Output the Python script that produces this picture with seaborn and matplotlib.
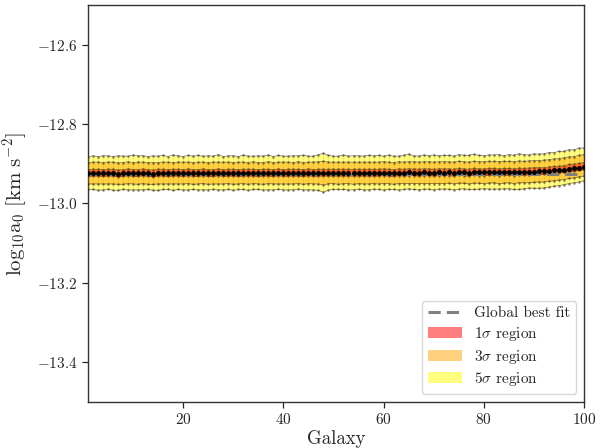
import numpy as np
import pandas as pd
import matplotlib
matplotlib.use("Agg")
import matplotlib.pyplot as plt
import seaborn as sns
from matplotlib.lines import Line2D
from matplotlib.patches import Patch

# ---------------- data ----------------
galaxy = list(range(1, 101))

global_best = -12.925

median = [
    -12.924, -12.923, -12.924, -12.924, -12.923, -12.924, -12.925, -12.924, -12.923, -12.924,
    -12.924, -12.923, -12.924, -12.925, -12.924, -12.923, -12.924, -12.924, -12.923, -12.924,
    -12.923, -12.924, -12.924, -12.923, -12.924, -12.924, -12.923, -12.924, -12.923, -12.924,
    -12.924, -12.923, -12.924, -12.923, -12.924, -12.924, -12.923, -12.924, -12.923, -12.924,
    -12.923, -12.924, -12.923, -12.924, -12.923, -12.924, -12.923, -12.924, -12.923, -12.923,
    -12.924, -12.923, -12.923, -12.924, -12.923, -12.923, -12.924, -12.923, -12.923, -12.923,
    -12.923, -12.924, -12.923, -12.923, -12.922, -12.923, -12.923, -12.922, -12.923, -12.923,
    -12.922, -12.923, -12.922, -12.923, -12.922, -12.922, -12.923, -12.922, -12.922, -12.922,
    -12.922, -12.921, -12.922, -12.922, -12.921, -12.922, -12.921, -12.921, -12.920, -12.920,
    -12.919, -12.919, -12.918, -12.917, -12.916, -12.915, -12.913, -12.912, -12.910, -12.908,
]

up5 = [
    0.041, 0.043, 0.042, 0.044, 0.043, 0.042, 0.045, 0.043, 0.042, 0.046,
    0.044, 0.043, 0.042, 0.045, 0.043, 0.044, 0.042, 0.046, 0.043, 0.042,
    0.044, 0.043, 0.045, 0.042, 0.044, 0.043, 0.046, 0.042, 0.043, 0.044,
    0.042, 0.045, 0.043, 0.042, 0.044, 0.043, 0.045, 0.042, 0.044, 0.043,
    0.042, 0.044, 0.043, 0.045, 0.042, 0.043, 0.046, 0.050, 0.044, 0.042,
    0.043, 0.045, 0.042, 0.044, 0.043, 0.042, 0.045, 0.043, 0.044, 0.042,
    0.045, 0.043, 0.042, 0.044, 0.046, 0.043, 0.042, 0.044, 0.043, 0.045,
    0.042, 0.044, 0.043, 0.042, 0.045, 0.043, 0.044, 0.046, 0.043, 0.042,
    0.044, 0.043, 0.045, 0.042, 0.044, 0.043, 0.046, 0.044, 0.042, 0.045,
    0.043, 0.044, 0.046, 0.045, 0.047, 0.046, 0.048, 0.047, 0.049, 0.048,
]
lo5 = [
    0.041, 0.042, 0.043, 0.042, 0.041, 0.043, 0.042, 0.041, 0.043, 0.042,
    0.042, 0.043, 0.041, 0.042, 0.043, 0.042, 0.041, 0.043, 0.042, 0.042,
    0.043, 0.041, 0.042, 0.043, 0.042, 0.041, 0.043, 0.042, 0.042, 0.043,
    0.041, 0.042, 0.043, 0.042, 0.041, 0.042, 0.043, 0.042, 0.041, 0.042,
    0.043, 0.042, 0.041, 0.042, 0.043, 0.042, 0.044, 0.048, 0.043, 0.042,
    0.041, 0.042, 0.043, 0.042, 0.041, 0.043, 0.042, 0.041, 0.042, 0.043,
    0.042, 0.041, 0.043, 0.042, 0.041, 0.042, 0.043, 0.042, 0.041, 0.043,
    0.042, 0.041, 0.042, 0.043, 0.042, 0.041, 0.042, 0.043, 0.042, 0.041,
    0.042, 0.043, 0.042, 0.041, 0.042, 0.043, 0.044, 0.042, 0.041, 0.042,
    0.043, 0.042, 0.041, 0.040, 0.039, 0.038, 0.037, 0.036, 0.036, 0.035,
]
up3 = [
    0.027, 0.027, 0.028, 0.027, 0.027, 0.028, 0.027, 0.027, 0.028, 0.027,
    0.028, 0.027, 0.027, 0.028, 0.027, 0.027, 0.028, 0.027, 0.027, 0.028,
    0.027, 0.027, 0.028, 0.027, 0.027, 0.028, 0.027, 0.028, 0.027, 0.027,
    0.028, 0.027, 0.027, 0.028, 0.027, 0.027, 0.028, 0.027, 0.027, 0.028,
    0.027, 0.027, 0.028, 0.027, 0.027, 0.028, 0.028, 0.030, 0.027, 0.027,
    0.028, 0.027, 0.027, 0.028, 0.027, 0.027, 0.028, 0.027, 0.027, 0.028,
    0.027, 0.027, 0.028, 0.027, 0.027, 0.028, 0.027, 0.027, 0.028, 0.027,
    0.027, 0.028, 0.027, 0.027, 0.028, 0.027, 0.027, 0.028, 0.027, 0.027,
    0.028, 0.027, 0.027, 0.028, 0.027, 0.027, 0.028, 0.027, 0.027, 0.028,
    0.027, 0.028, 0.028, 0.029, 0.029, 0.030, 0.030, 0.030, 0.031, 0.031,
]
lo3 = [
    0.027, 0.028, 0.027, 0.027, 0.028, 0.027, 0.027, 0.028, 0.027, 0.027,
    0.028, 0.027, 0.028, 0.027, 0.027, 0.028, 0.027, 0.027, 0.028, 0.027,
    0.027, 0.028, 0.027, 0.027, 0.028, 0.027, 0.028, 0.027, 0.027, 0.028,
    0.027, 0.027, 0.028, 0.027, 0.027, 0.028, 0.027, 0.027, 0.028, 0.027,
    0.028, 0.027, 0.027, 0.028, 0.027, 0.027, 0.028, 0.030, 0.027, 0.027,
    0.028, 0.027, 0.027, 0.028, 0.027, 0.028, 0.027, 0.027, 0.028, 0.027,
    0.027, 0.028, 0.027, 0.027, 0.028, 0.027, 0.027, 0.028, 0.027, 0.027,
    0.028, 0.027, 0.027, 0.028, 0.027, 0.027, 0.028, 0.027, 0.027, 0.028,
    0.027, 0.027, 0.028, 0.027, 0.027, 0.028, 0.027, 0.027, 0.028, 0.027,
    0.027, 0.027, 0.026, 0.026, 0.025, 0.025, 0.024, 0.024, 0.023, 0.023,
]
up1 = [
    0.009, 0.009, 0.010, 0.009, 0.009, 0.010, 0.009, 0.009, 0.010, 0.009,
    0.009, 0.010, 0.009, 0.009, 0.010, 0.009, 0.009, 0.010, 0.009, 0.009,
    0.010, 0.009, 0.009, 0.010, 0.009, 0.009, 0.010, 0.009, 0.009, 0.010,
    0.009, 0.009, 0.010, 0.009, 0.009, 0.010, 0.009, 0.009, 0.010, 0.009,
    0.009, 0.010, 0.009, 0.009, 0.010, 0.009, 0.009, 0.010, 0.009, 0.009,
    0.010, 0.009, 0.009, 0.010, 0.009, 0.009, 0.010, 0.009, 0.009, 0.010,
    0.009, 0.009, 0.010, 0.009, 0.009, 0.010, 0.009, 0.009, 0.010, 0.009,
    0.009, 0.010, 0.009, 0.009, 0.010, 0.009, 0.009, 0.010, 0.009, 0.009,
    0.010, 0.009, 0.009, 0.010, 0.009, 0.009, 0.010, 0.009, 0.009, 0.010,
    0.009, 0.009, 0.010, 0.010, 0.010, 0.010, 0.011, 0.011, 0.011, 0.011,
]
lo1 = [
    0.008, 0.008, 0.007, 0.008, 0.008, 0.007, 0.008, 0.008, 0.007, 0.008,
    0.008, 0.007, 0.008, 0.008, 0.007, 0.008, 0.008, 0.007, 0.008, 0.008,
    0.007, 0.008, 0.008, 0.007, 0.008, 0.008, 0.007, 0.008, 0.008, 0.007,
    0.008, 0.008, 0.007, 0.008, 0.008, 0.007, 0.008, 0.008, 0.007, 0.008,
    0.008, 0.007, 0.008, 0.008, 0.007, 0.008, 0.008, 0.007, 0.008, 0.008,
    0.007, 0.008, 0.008, 0.007, 0.008, 0.008, 0.007, 0.008, 0.008, 0.007,
    0.008, 0.008, 0.007, 0.008, 0.008, 0.007, 0.008, 0.008, 0.007, 0.008,
    0.008, 0.007, 0.008, 0.008, 0.007, 0.008, 0.008, 0.007, 0.008, 0.008,
    0.007, 0.008, 0.008, 0.007, 0.008, 0.008, 0.007, 0.008, 0.008, 0.007,
    0.008, 0.008, 0.007, 0.007, 0.007, 0.007, 0.007, 0.007, 0.007, 0.007,
]

x_ticks = [20, 40, 60, 80, 100]
y_ticks = [-12.6, -12.8, -13.0, -13.2, -13.4]
legend_labels = ["Global best fit", r"$1\sigma$ region", r"$3\sigma$ region", r"$5\sigma$ region"]

# ---------------- build table ----------------
df = pd.DataFrame({"galaxy": galaxy, "median": median})
m = df["median"].to_numpy()
df["u5"] = m + np.array(up5)
df["l5"] = m - np.array(lo5)
df["u3"] = m + np.array(up3)
df["l3"] = m - np.array(lo3)
df["u1"] = m + np.array(up1)
df["l1"] = m - np.array(lo1)

# ---------------- style ----------------
sns.set_theme(style="ticks")
plt.rcParams["font.family"] = "serif"
plt.rcParams["font.serif"] = ["cmr10", "DejaVu Serif"]
plt.rcParams["mathtext.fontset"] = "cm"
plt.rcParams["axes.formatter.use_mathtext"] = True
plt.rcParams["axes.unicode_minus"] = True

fig = plt.figure(figsize=(6.07, 4.48), dpi=100)
ax = fig.add_axes([0.145, 0.103, 0.817, 0.886])

gx = df["galaxy"]
ax.fill_between(gx, df["l5"], df["u5"], color="yellow", alpha=0.5, lw=0, zorder=1)
ax.fill_between(gx, df["l3"], df["u3"], color="orange", alpha=0.5, lw=0, zorder=2)
ax.fill_between(gx, df["l1"], df["u1"], color="red", alpha=0.5, lw=0, zorder=3)
ax.vlines(gx, df["l5"], df["u5"], color="#e08a30", alpha=0.22, lw=0.7, zorder=3)

for col in ["u5", "l5", "u3", "l3", "u1", "l1"]:
    sns.lineplot(data=df, x="galaxy", y=col, ax=ax, color="#3a2a20", lw=0.55, alpha=0.6,
                 marker="o", markersize=1.8, markeredgewidth=0, zorder=4)

ax.axhline(global_best, color="gray", ls=(0, (4, 2)), lw=2.2, zorder=5)
sns.lineplot(data=df, x="galaxy", y="median", ax=ax, color="#ff6060", lw=1.0,
             marker="o", markersize=3.6, markerfacecolor="black", markeredgewidth=0, zorder=6)

ax.set_xlim(1, 100)
ax.set_ylim(-13.5, -12.5)
ax.set_xticks(x_ticks)
ax.set_yticks(y_ticks)
ax.tick_params(labelsize=11, direction="out", length=4, width=0.9)
ax.set_xlabel("Galaxy", fontsize=13.5, labelpad=2)
ax.set_ylabel(r"$\mathrm{log_{10}a_0\ [km\ s^{-2}]}$", fontsize=15, labelpad=5)
for s in ax.spines.values():
    s.set_visible(True)
    s.set_linewidth(1.0)
    s.set_color("#333333")

handles = [
    Line2D([0], [0], color="gray", ls=(0, (4, 2)), lw=2.2),
    Patch(facecolor="red", alpha=0.5, lw=0),
    Patch(facecolor="orange", alpha=0.5, lw=0),
    Patch(facecolor="yellow", alpha=0.5, lw=0),
]
ax.legend(handles, legend_labels, loc="lower right", fontsize=11.0, frameon=True,
          fancybox=True, edgecolor="#cccccc", framealpha=0.8, labelspacing=0.3,
          handlelength=2.2)

fig.savefig("out.png", dpi=100)
